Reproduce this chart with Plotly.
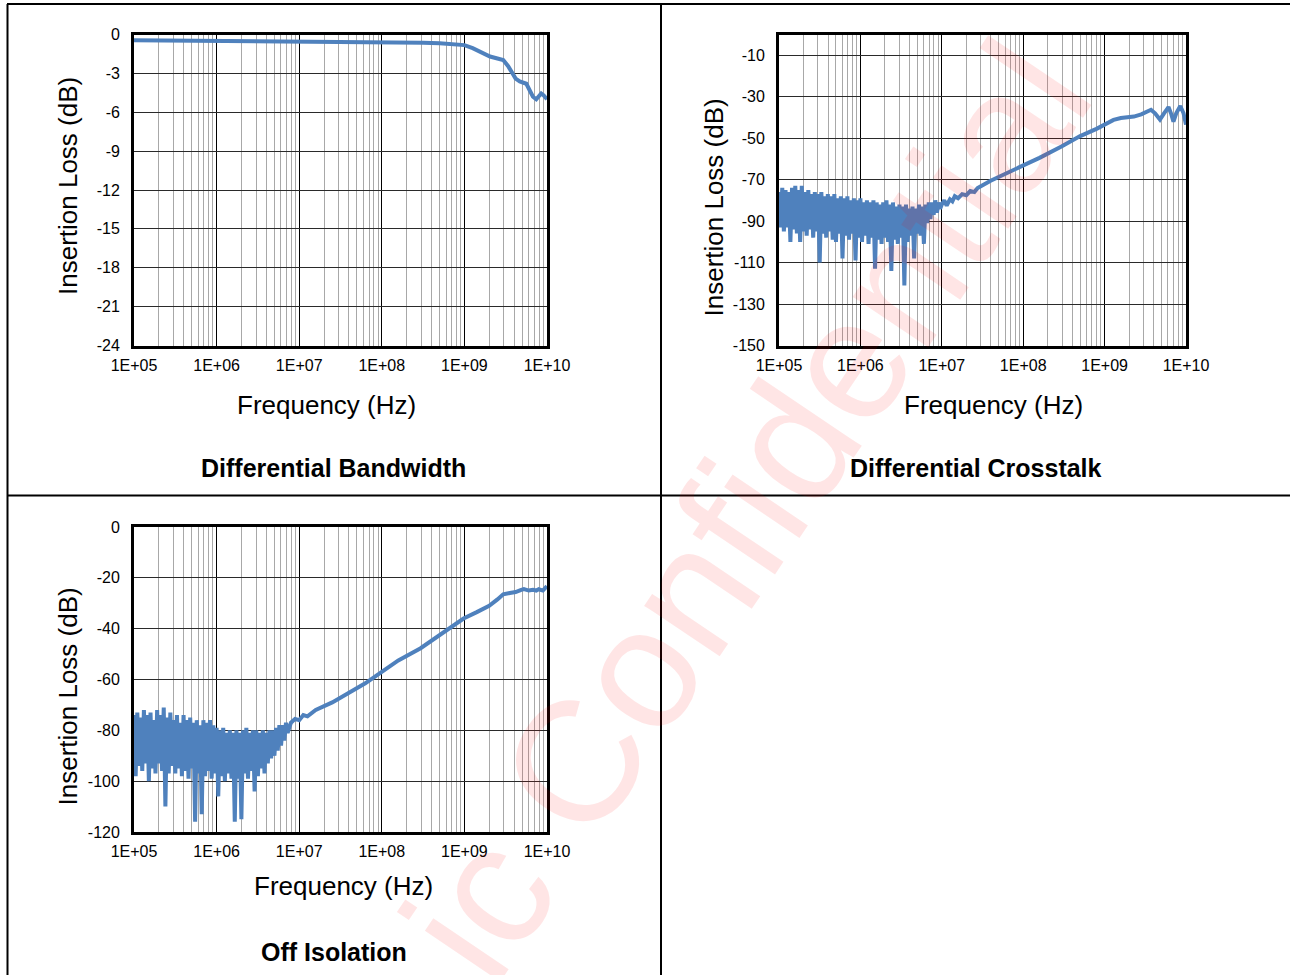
import plotly.graph_objects as go

# ---------------- data ----------------
# Differential Bandwidth: log10(frequency) and insertion loss (dB)
bw_exp = [5.0, 5.5, 6.0, 6.5, 7.0, 7.5, 8.0, 8.5, 8.7, 8.85, 9.0, 9.1, 9.2, 9.31, 9.4,
          9.47, 9.53, 9.58, 9.62, 9.67, 9.72, 9.75, 9.79, 9.83, 9.87, 9.9, 9.93, 9.96, 10.0]
bw_db = [-0.45, -0.47, -0.5, -0.55, -0.6, -0.62, -0.63, -0.64, -0.68, -0.73, -0.82, -1.05,
         -1.35, -1.7, -1.85, -1.97, -2.45, -3.0, -3.4, -3.62, -3.7, -3.8, -4.3, -4.8, -5.0,
         -4.8, -4.55, -4.7, -5.0]

# low-frequency sweep points (log10 Hz) used by the noisy parts
sweep_exp = [5.00, 5.02, 5.04, 5.06, 5.08, 5.10, 5.12, 5.14, 5.16, 5.18,
             5.20, 5.22, 5.24, 5.26, 5.28, 5.30, 5.32, 5.34, 5.36, 5.38,
             5.40, 5.42, 5.44, 5.46, 5.48, 5.50, 5.52, 5.54, 5.56, 5.58,
             5.60, 5.62, 5.64, 5.66, 5.68, 5.70, 5.72, 5.74, 5.76, 5.78,
             5.80, 5.82, 5.84, 5.86, 5.88, 5.90, 5.92, 5.94, 5.96, 5.98,
             6.00, 6.02, 6.04, 6.06, 6.08, 6.10, 6.12, 6.14, 6.16, 6.18,
             6.20, 6.22, 6.24, 6.26, 6.28, 6.30, 6.32, 6.34, 6.36, 6.38,
             6.40, 6.42, 6.44, 6.46, 6.48, 6.50, 6.52, 6.54, 6.56, 6.58,
             6.60, 6.62, 6.64, 6.66, 6.68, 6.70, 6.72, 6.74, 6.76, 6.78,
             6.80, 6.82, 6.84, 6.86, 6.88, 6.90, 6.92, 6.94, 6.96, 6.98]

# Differential Crosstalk
xtalk_noise_db = [-76, -93, -74, -95, -75, -93, -76, -100, -74, -94,
                  -73, -96, -75, -100, -73, -95, -76, -97, -75, -94,
                  -77, -98, -76, -95, -77, -110, -76, -96, -78, -98,
                  -77, -95, -78, -99, -77, -100, -79, -96, -78, -108,
                  -79, -97, -78, -99, -80, -96, -79, -109, -80, -98,
                  -79, -100, -81, -97, -80, -101, -81, -98, -80, -113,
                  -81, -99, -82, -101, -81, -98, -80, -100, -82, -114,
                  -81, -99, -83, -101, -82, -98, -83, -121, -82, -100,
                  -84, -97, -83, -108, -84, -96, -82, -97, -83, -101,
                  -82, -91, -81, -89, -81, -87, -80, -86, -81, -84]
xtalk_hi_exp = [7.0, 7.03, 7.06, 7.1, 7.13, 7.16, 7.2, 7.25, 7.3, 7.35, 7.4, 7.44, 7.6,
                7.8, 8.0, 8.2, 8.47, 8.7, 8.9, 9.0, 9.11, 9.2, 9.36, 9.45, 9.57, 9.62,
                9.68, 9.73, 9.785, 9.82, 9.846, 9.88, 9.93, 9.97, 10.0]
xtalk_hi_db = [-82, -80, -82.5, -79.5, -80.5, -78, -79, -77, -77.5, -75.5, -76, -74,
               -70.5, -67, -63.5, -59.5, -54, -49, -45.5, -43.5, -41.2, -40.3, -39.6,
               -38.5, -36.3, -38, -41, -38, -35, -38.5, -42, -38, -34.5, -38, -43.5]

# Off Isolation
iso_noise_db = [-74, -98, -73, -94, -75, -96, -72, -93, -74, -100,
                -73, -95, -76, -97, -72, -93, -74, -96, -71, -110,
                -75, -97, -73, -94, -76, -97, -74, -95, -77, -98,
                -74, -96, -76, -99, -75, -95, -77, -116, -76, -97,
                -78, -113, -76, -98, -77, -96, -76, -99, -78, -97,
                -79, -106, -80, -98, -79, -100, -81, -97, -80, -99,
                -81, -116, -80, -99, -81, -115, -80, -97, -79, -99,
                -81, -96, -80, -104, -80, -98, -81, -95, -80, -97,
                -81, -93, -80, -91, -80, -90, -79, -88, -78, -86,
                -78, -84, -77, -81]
iso_hi_exp = [6.90, 6.95, 7.0, 7.05, 7.1, 7.2, 7.4, 7.555, 7.8, 8.0, 8.2, 8.47, 8.7,
              8.99, 9.15, 9.3, 9.4, 9.47, 9.55, 9.62, 9.68, 9.72, 9.78, 9.83, 9.87,
              9.9, 9.95, 10.0]
iso_hi_db = [-77, -75.5, -76, -74, -74.5, -72, -69, -66, -61.5, -57, -52.5, -47.7,
             -42.5, -36, -33.5, -31, -28.5, -26.5, -26, -25.6, -24.8, -24.4, -25,
             -24.7, -25, -24.5, -25, -23.3]

# axis ticks
x_tick_vals = [1e5, 1e6, 1e7, 1e8, 1e9, 1e10]
x_tick_text = ["1E+05", "1E+06", "1E+07", "1E+08", "1E+09", "1E+10"]
bw_ticks = [0, -3, -6, -9, -12, -15, -18, -21, -24]
xtalk_ticks = [-10, -30, -50, -70, -90, -110, -130, -150]
iso_ticks = [0, -20, -40, -60, -80, -100, -120]

titles = ["Differential Bandwidth", "Differential Crosstalk", "Off Isolation"]
y_title = "Insertion Loss (dB)"
x_title = "Frequency (Hz)"
watermark = "ic Confidential"

# ---------------- figure ----------------
W, H = 1290, 975
LINE = "#4F81BD"
FONT = "Arial, Liberation Sans, sans-serif"


def fx(px):
    return px / W


def fy(py):
    return 1 - py / H


minor_vals = [m * 10 ** d for d in range(5, 10) for m in range(2, 10)]

fig = go.Figure()
fig.add_trace(go.Scatter(x=[10 ** e for e in bw_exp], y=bw_db, mode="lines",
                         line=dict(color=LINE, width=4), xaxis="x", yaxis="y"))
fig.add_trace(go.Scatter(x=[10 ** e for e in sweep_exp + xtalk_hi_exp],
                         y=xtalk_noise_db + xtalk_hi_db, mode="lines",
                         line=dict(color=LINE, width=4), xaxis="x2", yaxis="y2"))
iso_exp = sweep_exp[:len(iso_noise_db)] + iso_hi_exp
fig.add_trace(go.Scatter(x=[10 ** e for e in iso_exp],
                         y=iso_noise_db + iso_hi_db, mode="lines",
                         line=dict(color=LINE, width=4), xaxis="x3", yaxis="y3"))


def xaxis(domain, anchor):
    return dict(type="log", range=[5, 10], domain=domain, anchor=anchor,
                tickmode="array", tickvals=x_tick_vals, ticktext=x_tick_text,
                showgrid=True, gridcolor="#000000", gridwidth=1.3,
                minor=dict(tickmode="array", tickvals=minor_vals, showgrid=True,
                           gridcolor="#a8a8a8", gridwidth=1.3, ticks=""),
                showline=True, linecolor="#000000", linewidth=2.8, mirror=True,
                ticks="", ticklabelstandoff=3, zeroline=False, automargin=False,
                tickfont=dict(family=FONT, size=16, color="#000000"))


def yaxis(domain, anchor, rng, ticks):
    return dict(range=rng, domain=domain, anchor=anchor, tickmode="array",
                tickvals=ticks, ticktext=[str(t) for t in ticks],
                showgrid=True, gridcolor="#2a2a2a", gridwidth=1.3,
                showline=True, linecolor="#000000", linewidth=2.8, mirror=True,
                ticks="", ticklabelstandoff=8, zeroline=False, automargin=False,
                tickfont=dict(family=FONT, size=16, color="#000000"))


fig.update_layout(
    width=W, height=H, autosize=False,
    margin=dict(l=0, r=0, t=0, b=0, pad=0, autoexpand=False),
    paper_bgcolor="white", plot_bgcolor="white", showlegend=False,
    xaxis=xaxis([fx(134), fx(547)], "y"),
    yaxis=yaxis([fy(345.5), fy(34.5)], "x", [-24, 0], bw_ticks),
    xaxis2=xaxis([fx(779), fx(1186)], "y2"),
    yaxis2=yaxis([fy(345.5), fy(34.5)], "x2", [-150, 0], xtalk_ticks),
    xaxis3=xaxis([fx(134), fx(547)], "y3"),
    yaxis3=yaxis([fy(832), fy(527)], "x3", [-120, 0], iso_ticks),
)

ann = []
# y-axis titles
for cx, cy in [(68, 186), (713.5, 208), (67.5, 697)]:
    ann.append(dict(x=fx(cx), y=fy(cy), xref="paper", yref="paper", text=y_title,
                    textangle=-90, showarrow=False, xanchor="center", yanchor="middle",
                    font=dict(family=FONT, size=26, color="#000000")))
# x-axis titles
for cx, cy in [(326, 405), (994, 405), (343, 886)]:
    ann.append(dict(x=fx(cx), y=fy(cy), xref="paper", yref="paper", text=x_title,
                    showarrow=False, xanchor="center", yanchor="middle",
                    font=dict(family=FONT, size=26, color="#000000")))
# panel titles
for t, (cx, cy) in zip(titles, [(333.5, 468), (976, 468), (333.5, 952)]):
    ann.append(dict(x=fx(cx), y=fy(cy), xref="paper", yref="paper",
                    text="<b>" + t + "</b>", showarrow=False,
                    xanchor="center", yanchor="middle",
                    font=dict(family=FONT, size=25, color="#000000")))
# watermark
ann.append(dict(x=fx(746), y=fy(510), xref="paper", yref="paper", text=watermark,
                textangle=-56, showarrow=False, xanchor="center", yanchor="middle",
                font=dict(family=FONT, size=172, color="rgba(255,0,0,0.1)")))
fig.update_layout(annotations=ann)

# table borders
border = dict(color="#000000", width=2)
shapes = [
    dict(type="line", xref="paper", yref="paper", x0=fx(7), x1=1, y0=fy(4), y1=fy(4), line=border),
    dict(type="line", xref="paper", yref="paper", x0=fx(7.5), x1=fx(7.5), y0=fy(4), y1=0, line=border),
    dict(type="line", xref="paper", yref="paper", x0=fx(661), x1=fx(661), y0=fy(4), y1=0, line=border),
    dict(type="line", xref="paper", yref="paper", x0=fx(7), x1=1, y0=fy(495.5), y1=fy(495.5), line=border),
]
fig.update_layout(shapes=shapes)

fig.write_html("out.html", config={"displayModeBar": False},
               post_script="document.body.style.margin='0';")
